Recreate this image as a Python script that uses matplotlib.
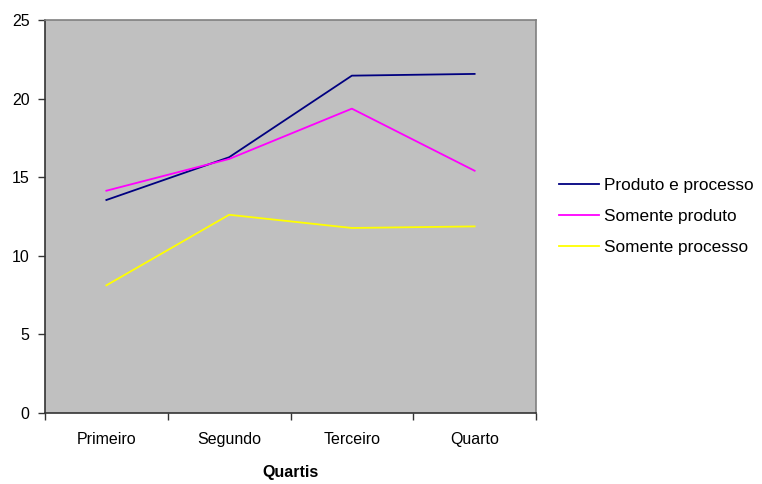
import matplotlib
matplotlib.use("Agg")
import matplotlib.pyplot as plt
from matplotlib.ticker import FixedLocator, NullFormatter

plt.rcParams['font.family'] = ['Liberation Sans', 'DejaVu Sans']

categories = ["Primeiro", "Segundo", "Terceiro", "Quarto"]
produto_e_processo = [13.55, 16.27, 21.46, 21.57]
somente_produto = [14.14, 16.16, 19.36, 15.41]
somente_processo = [8.12, 12.61, 11.77, 11.87]

series = [
    ("Produto e processo", produto_e_processo, "#000080"),
    ("Somente produto", somente_produto, "#FF00FF"),
    ("Somente processo", somente_processo, "#FFFF00"),
]

fig = plt.figure(figsize=(7.62, 4.84), dpi=100)
ax = fig.add_axes([45 / 762, 1 - 413 / 484, (536 - 45) / 762, (413 - 20) / 484])
ax.set_facecolor("#C0C0C0")

x = list(range(len(categories)))
for name, vals, color in series:
    ax.plot(x, vals, color=color, lw=1.3, label=name)

ax.set_xlim(-0.5, len(categories) - 0.5)
ax.set_ylim(0, 25)
ax.set_yticks(range(0, 26, 5))
ax.set_xticks(x)
ax.set_xticklabels(categories)
ax.xaxis.set_minor_locator(FixedLocator([i - 0.5 for i in range(len(categories) + 1)]))
ax.xaxis.set_minor_formatter(NullFormatter())
ax.tick_params(axis="x", which="major", length=0, pad=14, labelsize=11.5)
ax.tick_params(axis="x", which="minor", length=5, width=1, color="#333333", direction="out")
ax.tick_params(axis="y", length=5, width=1, color="#333333", direction="out", pad=6, labelsize=11.5)

for side in ("left", "bottom"):
    ax.spines[side].set_color("#333333")
    ax.spines[side].set_linewidth(1.2)
for side in ("top", "right"):
    ax.spines[side].set_color("#808080")
    ax.spines[side].set_linewidth(1.2)

ax.set_xlabel("Quartis", fontsize=11.5, fontweight="bold", labelpad=13)

leg = ax.legend(loc="center left", bbox_to_anchor=(1.016, 0.5), frameon=False,
                fontsize=12.4, handlelength=2.3, handletextpad=0.3, labelspacing=0.9)

fig.savefig("out.png", dpi=100)
